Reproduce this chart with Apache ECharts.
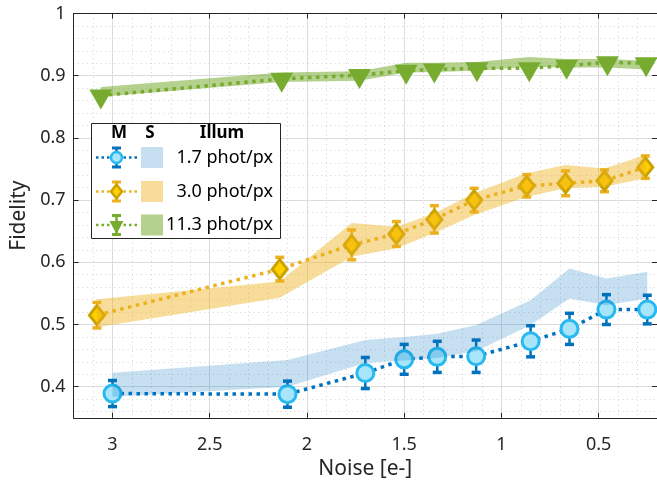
<!DOCTYPE html>
<html><head><meta charset="utf-8">
<script src="https://cdn.jsdelivr.net/npm/echarts@6/dist/echarts.min.js"></script>
<style>html,body{margin:0;padding:0;background:#fff}#c{width:657px;height:487px}</style>
</head><body><div id="c"></div>
<script>
// ---- tick labels / categories ----
const xTicks = [3, 2.5, 2, 1.5, 1, 0.5];
const yTicks = [0.4, 0.5, 0.6, 0.7, 0.8, 0.9, 1];
const illumLabels = ['1.7 phot/px', '3.0 phot/px', '11.3 phot/px'];
const legendHeaders = ['M', 'S', 'Illum'];

// ---- 1.7 phot/px ----
const blueX = [3.0, 2.1, 1.7, 1.5, 1.33, 1.13, 0.85, 0.65, 0.46, 0.25];
const blueY = [0.389, 0.388, 0.422, 0.444, 0.448, 0.449, 0.473, 0.493, 0.524, 0.524];
const blueErr = [0.021, 0.021, 0.025, 0.024, 0.025, 0.026, 0.025, 0.025, 0.024, 0.023];
const blueBandLo = [0.384, 0.400, 0.438, 0.442, 0.446, 0.457, 0.499, 0.542, 0.531, 0.542];
const blueBandHi = [0.4225, 0.443, 0.475, 0.480, 0.485, 0.499, 0.539, 0.590, 0.574, 0.585];

// ---- 3.0 phot/px ----
const yelX = [3.08, 2.14, 1.77, 1.54, 1.345, 1.14, 0.87, 0.67, 0.47, 0.26];
const yelY = [0.515, 0.589, 0.628, 0.6455, 0.669, 0.700, 0.723, 0.727, 0.731, 0.753];
const yelErr = [0.0205, 0.019, 0.024, 0.020, 0.022, 0.019, 0.018, 0.020, 0.0175, 0.018];
const yelBandLo = [0.4955, 0.543, 0.609, 0.6225, 0.647, 0.676, 0.7055, 0.719, 0.7215, 0.735];
const yelBandHi = [0.5405, 0.569, 0.663, 0.657, 0.679, 0.711, 0.743, 0.7565, 0.751, 0.7725];

// ---- 11.3 phot/px ----
const grnX = [3.06, 2.13, 1.73, 1.49, 1.345, 1.126, 0.857, 0.665, 0.455, 0.256];
const grnY = [0.868, 0.895, 0.901, 0.908, 0.910, 0.912, 0.912, 0.916, 0.9215, 0.920];
const grnErr = [0.005, 0.005, 0.005, 0.005, 0.005, 0.005, 0.005, 0.005, 0.005, 0.005];
const grnBandLo = [0.866, 0.890, 0.892, 0.905, 0.906, 0.908, 0.9145, 0.913, 0.913, 0.910];
const grnBandHi = [0.882, 0.905, 0.907, 0.921, 0.921, 0.922, 0.930, 0.927, 0.927, 0.924];

// ---- styling ----
const FONT = 'Noto Sans';
const AX = '#262626';
const X_MIN = 0.2, X_MAX = 3.2, Y_MIN = 0.35, Y_MAX = 1;
const C = {
  blue: {line: '#0072BD', err: '#0072BD', edge: '#27b9ef', face: '#a8e5fa', band: 'rgba(0,114,189,0.22)'},
  yel: {line: '#EDB120', err: '#EDB120', edge: '#c9a200', face: '#ffcf00', band: 'rgba(237,177,32,0.45)'},
  grn: {line: '#77AC30', err: '#77AC30', edge: '#77AC30', face: '#77AC30', band: 'rgba(119,172,48,0.55)'}
};

const xMinor = []; for (let i = 3; i <= 31; i++) xMinor.push(+(i / 10).toFixed(2));
const yMinor = []; for (let i = 18; i <= 50; i++) yMinor.push(+(i * 0.02).toFixed(2));

function pairs(xs, ys) { return xs.map((x, i) => [x, ys[i]]); }

function bandSeries(xs, lo, hi, fill) {
  return {
    type: 'custom', z: 6, silent: true, clip: true,
    encode: {x: 0, y: [1, 2]},
    data: xs.map((x, i) => [x, lo[i], hi[i]]),
    renderItem: function (params, api) {
      if (params.dataIndex !== 0) return null;
      const pts = [];
      for (let i = 0; i < xs.length; i++) pts.push(api.coord([xs[i], hi[i]]));
      for (let i = xs.length - 1; i >= 0; i--) pts.push(api.coord([xs[i], lo[i]]));
      return {type: 'polygon', shape: {points: pts}, style: {fill: fill, stroke: null}};
    }
  };
}

function errSeries(xs, ys, es, color) {
  return {
    type: 'custom', z: 4, silent: true,
    encode: {x: 0, y: [1, 2]},
    data: xs.map((x, i) => [x, ys[i] - es[i], ys[i] + es[i]]),
    renderItem: function (params, api) {
      const x = api.value(0);
      const p1 = api.coord([x, api.value(2)]);
      const p2 = api.coord([x, api.value(1)]);
      const cw = 4.5;
      return {type: 'group', children: [
        {type: 'line', shape: {x1: p1[0], y1: p1[1], x2: p2[0], y2: p2[1]}, style: {stroke: color, lineWidth: 2.5}},
        {type: 'line', shape: {x1: p1[0] - cw, y1: p1[1], x2: p1[0] + cw, y2: p1[1]}, style: {stroke: color, lineWidth: 3.5}},
        {type: 'line', shape: {x1: p2[0] - cw, y1: p2[1], x2: p2[0] + cw, y2: p2[1]}, style: {stroke: color, lineWidth: 3.5}}
      ]};
    }
  };
}

function lineSeries(xs, ys, color) {
  return {
    type: 'line', z: 3, silent: true, showSymbol: false, symbol: 'none',
    data: pairs(xs, ys),
    lineStyle: {color: color, width: 3.5, type: [3.5, 4.5], cap: 'butt'}
  };
}

function markerSeries(xs, ys, sym, size, c, extra) {
  return Object.assign({
    type: 'scatter', z: 5, silent: true,
    data: pairs(xs, ys), symbol: sym, symbolSize: size,
    itemStyle: {color: c.face, borderColor: c.edge, borderWidth: 3, opacity: 1}
  }, extra || {});
}

const series = [
  lineSeries(blueX, blueY, C.blue.line),
  errSeries(blueX, blueY, blueErr, C.blue.err),
  markerSeries(blueX, blueY, 'circle', 17, C.blue),
  bandSeries(blueX, blueBandLo, blueBandHi, C.blue.band),

  lineSeries(yelX, yelY, C.yel.line),
  errSeries(yelX, yelY, yelErr, C.yel.err),
  markerSeries(yelX, yelY, 'diamond', [15, 19], C.yel),
  bandSeries(yelX, yelBandLo, yelBandHi, C.yel.band),

  lineSeries(grnX, grnY, C.grn.line),
  errSeries(grnX, grnY, grnErr, C.grn.err),
  markerSeries(grnX, grnY, 'triangle', [23, 20], C.grn, {symbolRotate: 180, symbolOffset: [0, 4],
    itemStyle: {color: C.grn.face, borderWidth: 0, opacity: 1}}),
  bandSeries(grnX, grnBandLo, grnBandHi, C.grn.band)
];

const tickFmt = v => String(+(+v).toFixed(2));
const labelStyle = {fontFamily: FONT, fontSize: 18, color: AX};

const option = {
  animation: false,
  backgroundColor: '#fff',
  grid: {left: 73.6, right: -2.8, top: 13.5, bottom: 69.2, containLabel: false},
  xAxis: [
    {type: 'value', position: 'bottom', inverse: true, min: X_MIN, max: X_MAX,
     name: 'Noise [e-]', nameLocation: 'middle', nameGap: 41,
     nameTextStyle: {fontFamily: FONT, fontSize: 21, color: AX},
     axisLine: {show: true, onZero: false, lineStyle: {color: AX, width: 1}},
     axisTick: {show: true, inside: true, length: 5, customValues: xTicks, lineStyle: {color: AX, width: 1}},
     axisLabel: Object.assign({customValues: xTicks, margin: 18, formatter: tickFmt}, labelStyle),
     splitLine: {show: true, lineStyle: {color: '#dedede', width: 1}}},
    {type: 'value', position: 'top', inverse: true, min: X_MIN, max: X_MAX,
     axisLine: {show: true, onZero: false, lineStyle: {color: AX, width: 1}},
     axisTick: {show: true, inside: true, length: 5, customValues: xTicks, lineStyle: {color: AX, width: 1}},
     axisLabel: {show: false}, splitLine: {show: false}},
    {type: 'value', position: 'bottom', inverse: true, min: X_MIN, max: X_MAX,
     axisLine: {show: false, onZero: false}, axisTick: {show: false, customValues: xMinor},
     axisLabel: {show: false},
     splitLine: {show: true, lineStyle: {color: '#d3d3d3', width: 1, type: [1, 3.5]}}}
  ],
  yAxis: [
    {type: 'value', position: 'left', min: Y_MIN, max: Y_MAX,
     name: 'Fidelity', nameLocation: 'middle', nameGap: 40,
     nameTextStyle: {fontFamily: FONT, fontSize: 21, color: AX},
     axisLine: {show: true, onZero: false, lineStyle: {color: AX, width: 1}},
     axisTick: {show: true, inside: true, length: 5, customValues: yTicks, lineStyle: {color: AX, width: 1}},
     axisLabel: Object.assign({customValues: yTicks, margin: 8, formatter: tickFmt}, labelStyle),
     splitLine: {show: true, lineStyle: {color: '#dedede', width: 1}}},
    {type: 'value', position: 'right', min: Y_MIN, max: Y_MAX,
     axisLine: {show: true, onZero: false, lineStyle: {color: AX, width: 1}},
     axisTick: {show: true, inside: true, length: 5, customValues: yTicks, lineStyle: {color: AX, width: 1}},
     axisLabel: {show: false}, splitLine: {show: false}},
    {type: 'value', position: 'left', min: Y_MIN, max: Y_MAX,
     axisLine: {show: false, onZero: false}, axisTick: {show: false, customValues: yMinor},
     axisLabel: {show: false},
     splitLine: {show: true, lineStyle: {color: '#d3d3d3', width: 1, type: [1, 3.5]}}}
  ],
  series: series
};

// ---- legend table (M | S | Illum) ----
const LG = {x: 91.5, y: 123.5, w: 189, h: 115, rows: [157.5, 191.5, 225], hdrY: 133,
  lineX1: 96, lineX2: 137, mx: 116.5, swX: 141, swW: 22, swH: 21, textR: 273};
const keys = ['blue', 'yel', 'grn'];
const g = [];
g.push({type: 'rect', z: 100, shape: {x: LG.x, y: LG.y, width: LG.w, height: LG.h},
  style: {fill: '#fff', stroke: AX, lineWidth: 1}});
[119, 150, 222].forEach((hx, i) => g.push({type: 'text', z: 101,
  style: {text: legendHeaders[i], x: hx, y: LG.hdrY, align: 'center', verticalAlign: 'middle',
    fontFamily: FONT, fontSize: 17, fontWeight: 'bold', fill: '#000'}}));
keys.forEach((k, i) => {
  const ry = LG.rows[i], c = C[k];
  g.push({type: 'line', z: 101, shape: {x1: LG.lineX1, y1: ry, x2: LG.lineX2, y2: ry},
    style: {stroke: c.line, lineWidth: 2.5, lineDash: [2.5, 3]}});
  const eh = 9.5;
  g.push({type: 'line', z: 101, shape: {x1: LG.mx, y1: ry - eh, x2: LG.mx, y2: ry + eh}, style: {stroke: c.err, lineWidth: 2.5}});
  g.push({type: 'line', z: 101, shape: {x1: LG.mx - 4.5, y1: ry - eh, x2: LG.mx + 4.5, y2: ry - eh}, style: {stroke: c.err, lineWidth: 3}});
  g.push({type: 'line', z: 101, shape: {x1: LG.mx - 4.5, y1: ry + eh, x2: LG.mx + 4.5, y2: ry + eh}, style: {stroke: c.err, lineWidth: 3}});
  if (k === 'blue') {
    g.push({type: 'circle', z: 102, shape: {cx: LG.mx, cy: ry, r: 5.5}, style: {fill: c.face, stroke: c.edge, lineWidth: 2.5}});
  } else if (k === 'yel') {
    g.push({type: 'polygon', z: 102, shape: {points: [[LG.mx, ry - 7], [LG.mx + 5.5, ry], [LG.mx, ry + 7], [LG.mx - 5.5, ry]]},
      style: {fill: c.face, stroke: c.edge, lineWidth: 2.5}});
  } else {
    g.push({type: 'polygon', z: 102, shape: {points: [[LG.mx - 7, ry - 4], [LG.mx + 7, ry - 4], [LG.mx, ry + 9]]},
      style: {fill: c.face, stroke: null}});
  }
  g.push({type: 'rect', z: 101, shape: {x: LG.swX, y: ry - LG.swH / 2, width: LG.swW, height: LG.swH},
    style: {fill: c.band, stroke: null}});
  g.push({type: 'text', z: 103, style: {text: illumLabels[i], x: LG.textR, y: ry, align: 'right', verticalAlign: 'middle',
    fontFamily: FONT, fontSize: 18, fill: '#000'}});
});
option.graphic = {elements: g};

const chart = echarts.init(document.getElementById('c'), null, {renderer: 'canvas'});
chart.setOption(option);
</script></body></html>
